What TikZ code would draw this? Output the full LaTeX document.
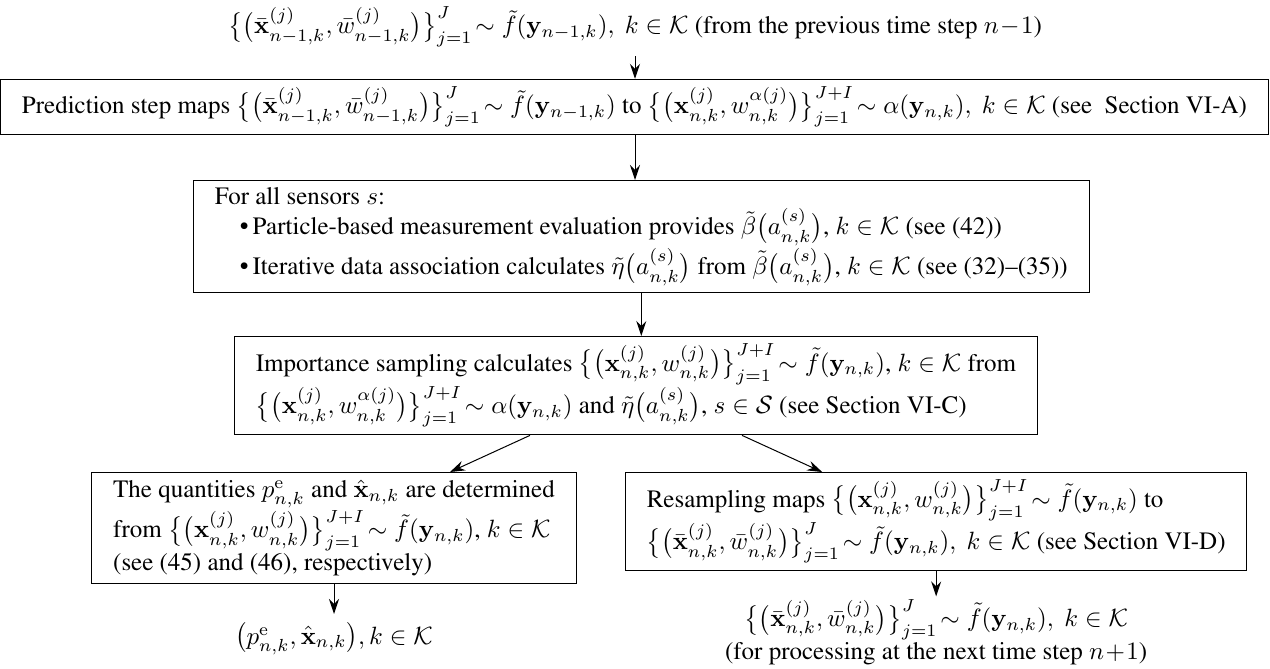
\documentclass[tikz,border=0pt]{standalone}
\usepackage{amsmath}
\usepackage{amssymb}
\usepackage[T1]{fontenc}
\usepackage{times}
\usepackage{tikz}
\usetikzlibrary{arrows.meta,calc,positioning}

\newcommand{\xb}{\mathbf{x}}
\newcommand{\yb}{\mathbf{y}}
\newcommand{\Kset}{\mathcal{K}}
\newcommand{\barset}[1]{\big\{\big(\bar{\xb}^{(j)}_{#1},\bar{w}^{(j)}_{#1}\big)\big\}_{j=1}^{J}}
\newcommand{\alset}{\big\{\big(\xb^{(j)}_{n,k},w^{\alpha(j)}_{n,k}\big)\big\}_{j=1}^{J+I}}
\newcommand{\wset}{\big\{\big(\xb^{(j)}_{n,k},w^{(j)}_{n,k}\big)\big\}_{j=1}^{J+I}}
\newcommand{\asn}{a^{(s)}_{n,k}}

\begin{document}
\begin{tikzpicture}[x=0.40pt,y=-0.40pt,
    >={Stealth[length=6pt,width=4pt,inset=2pt]},
    blk/.style={draw,line width=0.4pt,inner xsep=8.5pt,inner ysep=3pt,align=left},
    flow/.style={->,line width=0.4pt}]
  \useasboundingbox (0,0) rectangle (1270,668);

  \node (prev) at (635,27) {$\barset{n-1,k}\!\sim\tilde{f}(\yb_{n-1,k}),\ k\in\Kset$ (from the previous time step $n\!-\!1$)};

  \node[blk,minimum width=504.4pt,align=center] (pred) at (634.5,107)
    {Prediction step maps $\barset{n-1,k}\!\sim\tilde{f}(\yb_{n-1,k})$ to $\alset\!\sim\alpha(\yb_{n,k}),\ k\in\Kset$ (see~ Section VI-A)};

  \node[blk,anchor=north west] (sens) at (193,180)
    {For all sensors $s$:\\
     \quad\textbullet\,Particle-based measurement evaluation provides $\tilde{\beta}\big(\asn\big)$, $k\in\Kset$ (see (42))\\
     \quad\textbullet\,Iterative data association calculates $\tilde{\eta}\big(\asn\big)$ from $\tilde{\beta}\big(\asn\big)$, $k\in\Kset$ (see (32)--(35))};

  \node[blk,anchor=north] (imps) at (636,336)
    {Importance sampling calculates $\wset\!\sim\tilde{f}(\yb_{n,k})$, $k\in\Kset$ from\\
     $\alset\!\sim\alpha(\yb_{n,k})$ and $\tilde{\eta}\big(\asn\big)$, $s\in\mathcal{S}$ (see Section VI-C)};

  \node[blk,anchor=north] (est) at (334,472)
    {The quantities $p^{\mathrm{e}}_{n,k}$ and $\hat{\xb}_{n,k}$ are determined\\
     from $\wset\!\sim\tilde{f}(\yb_{n,k})$, $k\in\Kset$\\
     (see (45) and (46), respectively)};

  \node[blk,anchor=north west] (resa) at (625,472)
    {Resampling maps $\wset\!\sim\tilde{f}(\yb_{n,k})$ to\\
     $\barset{n,k}\!\sim\tilde{f}(\yb_{n,k}),\ k\in\Kset$ (see Section VI-D)};

  \node[below=12pt of est] (outest) {$\big(p^{\mathrm{e}}_{n,k},\hat{\xb}_{n,k}\big),k\in\Kset$};
  \node[below=10pt of resa,align=center,inner sep=1pt] (outres)
    {$\barset{n,k}\!\sim\tilde{f}(\yb_{n,k}),\ k\in\Kset$\\(for processing at the next time step $n\!+\!1$)};

  % connectors
  \draw[flow] (prev) -- (prev |- pred.north);
  \draw[flow] (pred.south -| prev) -- (prev |- sens.north);
  \draw[flow] (sens.south) -- (sens.south |- imps.north);
  \draw[flow] ($(imps.south)+(-106,0)$) -- ($(est.north)+(116,0)$);
  \draw[flow] ($(imps.south)+(106,0)$) -- ($(resa.north)+(-114,0)$);
  \draw[flow] (est) -- (outest);
  \draw[flow] (resa) -- (outres);
\end{tikzpicture}
\end{document}
